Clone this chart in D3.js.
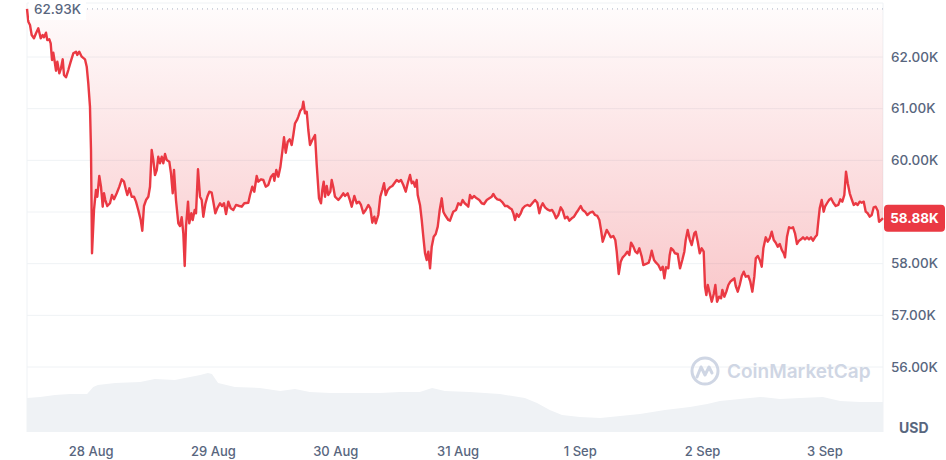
<!DOCTYPE html>
<html>
<head>
<meta charset="utf-8">
<script src="https://cdn.jsdelivr.net/npm/d3@7/dist/d3.min.js"></script>
<style>
  html, body { margin: 0; padding: 0; background: #fff; }
  svg { display: block; font-family: Inter, "Noto Sans", sans-serif; }
</style>
</head>
<body>
<svg id="chart" width="946" height="460"></svg>
<script>
// hours after 27 Aug 11:30, price in USD
var pricePoints = [
  [0,62930],[0.26,62683],[0.59,62619],[0.92,62426],[1.37,62362],[1.77,62459],[2.22,62555],[2.69,62362],
  [3.08,62426],[3.34,62381],[3.73,62470],[3.98,62329],[4.38,62343],[4.65,62265],[4.91,61942],[5.16,62083],
  [5.44,61909],[5.69,61735],[5.95,61909],[6.34,61685],[6.67,61781],[7.01,61955],[7.26,61652],[7.65,61607],
  [8.11,61748],[8.58,61909],[9.09,62072],[9.62,62103],[9.87,62039],[10.26,62103],[10.74,62006],[11.38,61955],
  [11.72,61812],[12.03,61491],[12.36,61038],[12.56,60200],[12.76,58201],[13.15,59039],[13.54,59426],[13.80,59296],
  [14.19,59697],[14.52,59490],[14.86,59103],[15.11,59362],[15.37,59232],[15.76,59116],[16.29,59169],[16.68,59329],
  [17.08,59246],[17.61,59362],[18.12,59490],[18.59,59633],[19.04,59587],[19.43,59426],[19.69,59329],[20.08,59459],
  [20.55,59296],[21.00,59296],[21.39,59200],[21.84,59039],[22.32,58845],[22.63,58638],[22.96,59116],[23.36,59232],
  [23.81,59296],[24.14,59490],[24.47,60200],[24.79,60007],[25.12,59716],[25.46,59813],[25.77,60070],[26.10,59943],
  [26.44,60070],[26.75,59943],[27.09,60123],[27.42,60007],[27.93,59974],[28.26,59749],[28.60,59362],[28.85,59813],
  [29.24,59232],[29.70,58781],[30.03,58729],[30.36,58898],[30.68,58588],[30.95,57955],[31.21,58716],[31.60,59200],
  [31.85,58781],[32.25,58975],[32.52,58845],[32.91,59039],[33.17,58975],[33.56,59827],[33.95,59296],[34.29,59232],
  [34.60,58909],[35.00,59155],[35.39,59296],[35.78,59393],[36.25,59374],[36.57,59200],[36.96,58975],[37.35,59072],
  [37.88,59169],[38.27,59116],[38.66,59169],[39.06,58961],[39.51,59200],[39.98,59072],[40.49,59039],[41.02,59136],
  [41.67,59116],[42.14,59103],[42.65,59169],[43.43,59180],[43.77,59329],[44.22,59490],[44.61,59393],[45.08,59697],
  [45.40,59587],[45.93,59633],[46.38,59619],[46.85,59490],[47.36,59523],[47.89,59683],[48.34,59736],[48.54,59606],
  [48.93,59813],[49.32,59683],[49.72,59865],[50.11,60167],[50.44,60446],[50.78,60148],[51.17,60361],[51.56,60407],
  [51.95,60297],[52.27,60490],[52.60,60717],[52.99,60781],[53.25,60845],[53.64,60961],[54.03,61007],[54.23,61135],
  [54.56,60910],[54.90,60941],[55.21,60587],[55.54,60297],[55.99,60394],[56.53,60490],[56.86,59910],[57.31,59265],
  [57.70,59169],[57.96,59426],[58.23,59587],[58.49,59296],[58.82,59503],[59.14,59329],[59.53,59393],[59.80,59619],
  [60.12,59478],[60.45,59296],[61.10,59232],[61.63,59296],[62.08,59362],[62.41,59310],[62.94,59362],[63.40,59219],
  [63.73,59103],[64.24,59310],[64.71,59169],[65.16,59200],[65.55,59136],[66.01,58975],[66.48,59039],[66.99,59136],
  [67.38,59072],[67.77,58793],[68.17,58909],[68.44,58781],[68.95,58942],[69.34,59296],[69.73,59426],[70.07,59556],
  [70.40,59329],[70.79,59426],[71.25,59478],[71.70,59503],[72.09,59556],[72.56,59619],[73.01,59587],[73.40,59619],
  [73.86,59523],[74.33,59393],[74.72,59556],[75.17,59716],[75.51,59556],[75.82,59587],[76.15,59490],[76.49,59619],
  [76.68,59329],[77.13,59136],[77.47,58845],[77.78,58522],[78.12,58201],[78.45,58071],[78.76,58232],[79.10,57910],
  [79.43,58329],[79.82,58522],[80.22,58574],[80.61,58716],[81.00,59039],[81.40,59265],[81.71,59006],[82.04,58942],
  [82.69,58845],[83.01,58832],[83.66,59006],[84.19,59039],[84.65,59169],[85.12,59136],[85.51,59232],[85.91,59169],
  [86.30,59136],[86.61,59103],[86.95,59329],[87.34,59265],[87.73,59310],[88.26,59265],[88.77,59232],[89.24,59169],
  [89.70,59155],[90.23,59232],[90.74,59265],[91.21,59296],[91.52,59349],[91.91,59285],[92.31,59246],[92.84,59232],
  [93.37,59180],[93.82,59116],[94.27,59116],[94.80,59072],[95.13,59052],[95.45,58975],[95.78,58845],[96.11,58961],
  [96.51,58909],[96.90,58975],[97.29,59072],[97.74,59116],[98.19,59136],[98.72,59116],[99.25,59180],[99.71,59232],
  [100.16,59180],[100.55,58975],[100.88,59103],[101.22,59169],[101.67,59091],[102.12,59052],[102.65,59025],[103.04,59039],
  [103.44,58975],[103.83,58878],[104.28,58942],[104.75,59091],[105.14,59025],[105.59,58878],[106.05,58909],[106.44,58832],
  [106.91,58878],[107.36,58909],[107.75,58975],[108.20,59039],[108.67,59116],[109.06,59039],[109.52,59006],[109.97,58942],
  [110.50,58987],[111.03,59006],[111.48,58942],[111.93,58923],[112.33,58845],[112.66,58652],[112.99,58425],[113.38,58536],
  [113.78,58652],[114.17,58588],[114.56,58510],[115.07,58536],[115.46,58458],[115.74,58232],[116.13,57800],[116.52,58038],
  [116.92,58123],[117.37,58168],[117.82,58232],[118.21,58168],[118.55,58406],[119.00,58329],[119.39,58232],[119.79,58201],
  [120.18,58298],[120.65,58135],[120.96,57974],[121.49,57994],[122.02,58019],[122.28,58104],[122.61,58251],[123.06,58071],
  [123.46,58019],[123.91,57974],[124.38,57878],[124.77,57942],[125.09,57717],[125.42,57930],[125.87,57910],[126.14,58168],
  [126.40,58298],[126.79,58265],[127.18,58201],[127.71,58187],[128.16,57910],[128.61,58071],[129.01,58232],[129.28,58458],
  [129.67,58652],[130.06,58472],[130.46,58361],[130.97,58588],[131.24,58619],[131.64,58425],[132.03,58201],[132.42,58298],
  [132.81,58232],[133.07,57554],[133.33,57394],[133.61,57587],[134.00,57427],[134.39,57264],[134.79,57413],[135.10,57587],
  [135.43,57264],[135.83,57361],[136.22,57330],[136.47,57491],[136.86,57361],[137.26,57458],[137.65,57587],[138.04,57651],
  [138.43,57684],[138.82,57717],[139.10,57568],[139.49,57458],[139.88,57587],[140.28,57761],[140.67,57845],[141.06,57748],
  [141.57,57761],[141.96,57651],[142.36,57458],[142.75,57748],[143.03,58104],[143.42,58149],[143.81,58071],[144.20,57942],
  [144.52,58298],[144.99,58510],[145.38,58425],[145.77,58491],[146.17,58619],[146.56,58458],[146.95,58406],[147.34,58329],
  [147.73,58381],[148.13,58265],[148.52,58201],[148.77,58123],[149.16,58522],[149.56,58704],[149.95,58685],[150.34,58704],
  [150.73,58588],[151.12,58381],[151.52,58445],[151.91,58472],[152.30,58510],[152.69,58472],[153.08,58510],[153.48,58472],
  [153.87,58510],[154.26,58445],[154.65,58510],[155.04,58555],[155.30,58812],[155.58,59072],[155.97,59232],[156.36,59006],
  [156.62,59103],[157.01,59169],[157.40,59232],[157.80,59265],[158.25,59180],[158.72,59116],[159.23,59136],[159.62,59246],
  [160.02,59200],[160.41,59329],[160.74,59780],[161.08,59556],[161.47,59362],[161.86,59246],[162.25,59136],[162.65,59169],
  [163.04,59136],[163.43,59200],[163.82,59180],[164.22,59200],[164.61,59006],[165.00,58975],[165.39,58909],[165.79,58942],
  [166.18,59091],[166.57,59103],[166.96,59025],[167.22,58812],[167.62,58845],[168,58880]
];

// hours after 27 Aug 11:30, volume (billion USD)
var volumePoints = [
  [0,25.5],[2.55,26.3],[5.5,27.8],[8.4,28.5],[11.8,28.5],[13.0,33.8],[13.9,35.3],[17.3,36.8],
  [22.2,37.5],[25.1,39.8],[29.0,39.0],[32.0,41.3],[34.0,42.8],[35.5,44.3],[36.3,43.5],[37.5,36.8],
  [40.8,33.8],[45.7,33.0],[49.7,30.8],[52.6,32.3],[55.5,30.0],[59.5,29.3],[69.3,29.3],[73.2,30.0],
  [77.1,30.0],[79.5,33.0],[82.0,30.8],[86.9,30.0],[92.8,28.5],[97.7,25.5],[100.1,21.8],[102.6,16.5],
  [105.0,12.8],[108.5,11.3],[112.5,10.5],[116.4,12.0],[120.3,13.5],[125.2,16.5],[130.1,18.8],[133.5,21.0],
  [136.0,23.3],[139.9,24.8],[143.9,26.3],[147.8,24.8],[151.7,25.5],[156.2,26.3],[159.6,23.3],[163.5,22.5],
  [168,22.5]
];

var priceTicks = [56000, 57000, 58000, 60000, 61000, 62000];
var gridTicks = [56000, 57000, 58000, 59000, 60000, 61000, 62000];
var openPrice = 62930;
var lastPrice = 58880;
var startTime = new Date(2024, 7, 27, 11, 30);

var svg = d3.select("#chart"),
    left = 27, right = 883, volBottom = 432;

function toDate(h) { return new Date(startTime.getTime() + h * 3600e3); }
function fmtK(v) { return (v / 1000).toFixed(2) + "K"; }

var x = d3.scaleTime()
    .domain([startTime, toDate(168)])
    .range([left, right]);

var y = d3.scaleLinear()
    .domain([56000, 62000])
    .range([367, 57]);

var yVol = d3.scaleLinear()
    .domain([0, 60])
    .range([volBottom, 352]);

var defs = svg.append("defs");
var grad = defs.append("linearGradient")
    .attr("id", "fillGrad")
    .attr("gradientUnits", "userSpaceOnUse")
    .attr("x1", 0).attr("x2", 0)
    .attr("y1", y(openPrice)).attr("y2", y(57250));
grad.append("stop").attr("offset", "0%").attr("stop-color", "#ea3943").attr("stop-opacity", 0.02);
grad.append("stop").attr("offset", "100%").attr("stop-color", "#ea3943").attr("stop-opacity", 0.28);

// frame
svg.append("line")
    .attr("x1", left).attr("x2", right).attr("y1", 3).attr("y2", 3)
    .attr("stroke", "#eff2f5");
svg.append("line")
    .attr("x1", left).attr("x2", left).attr("y1", 3).attr("y2", volBottom)
    .attr("stroke", "#eff2f5");
svg.append("line")
    .attr("x1", right).attr("x2", right).attr("y1", 3).attr("y2", volBottom)
    .attr("stroke", "#eff2f5");

// grid
svg.append("g")
  .selectAll("line")
  .data(gridTicks)
  .enter().append("line")
    .attr("x1", left).attr("x2", right)
    .attr("y1", function(d) { return y(d); })
    .attr("y2", function(d) { return y(d); })
    .attr("stroke", "#eff2f5");

// volume
var volArea = d3.area()
    .x(function(d) { return x(toDate(d[0])); })
    .y0(volBottom)
    .y1(function(d) { return yVol(d[1]); });

svg.append("path")
    .datum(volumePoints)
    .attr("d", volArea)
    .attr("fill", "#eff2f5");

// watermark
var wm = svg.append("g").attr("transform", "translate(705,371)");
wm.append("circle").attr("r", 13).attr("fill", "none").attr("stroke", "#cfd6e4").attr("stroke-width", 3);
wm.append("path")
    .attr("d", "M-8,6 L-4,-4 L0,4 L4,-4 L7,2")
    .attr("fill", "none").attr("stroke", "#cfd6e4").attr("stroke-width", 3)
    .attr("stroke-linejoin", "round").attr("stroke-linecap", "round");
svg.append("text")
    .attr("x", 727).attr("y", 378)
    .attr("font-size", 19).attr("font-weight", 600)
    .attr("fill", "#cfd6e4")
    .text("CoinMarketCap");

// price area + line
var area = d3.area()
    .x(function(d) { return x(toDate(d[0])); })
    .y0(y(openPrice))
    .y1(function(d) { return y(d[1]); });

svg.append("path")
    .datum(pricePoints)
    .attr("d", area)
    .attr("fill", "url(#fillGrad)");

var line = d3.line()
    .x(function(d) { return x(toDate(d[0])); })
    .y(function(d) { return y(d[1]); });

svg.append("path")
    .datum(pricePoints)
    .attr("d", line)
    .attr("fill", "none")
    .attr("stroke", "#ea3943")
    .attr("stroke-width", 2.4)
    .attr("stroke-linejoin", "round");

// open price dotted line + label
svg.append("line")
    .attr("x1", 87).attr("x2", right)
    .attr("y1", y(openPrice)).attr("y2", y(openPrice))
    .attr("stroke", "#a6b0c3")
    .attr("stroke-dasharray", "1,4");
svg.append("rect")
    .attr("x", 29).attr("y", 0).attr("width", 57).attr("height", 20)
    .attr("fill", "#fff");
svg.append("text")
    .attr("x", 34).attr("y", y(openPrice) + 5)
    .attr("font-size", 13.5).attr("font-weight", 500)
    .attr("fill", "#58667e")
    .text(fmtK(openPrice));

// y axis
var yAxis = svg.append("g")
    .attr("transform", "translate(" + right + ",0)")
    .call(d3.axisRight(y).tickValues(priceTicks).tickSize(0).tickPadding(8).tickFormat(fmtK));
yAxis.select(".domain").remove();
yAxis.selectAll("text")
    .attr("font-family", "Inter, sans-serif")
    .attr("font-size", 13.5).attr("font-weight", 500)
    .attr("fill", "#58667e");

// x axis
var xAxis = svg.append("g")
    .attr("transform", "translate(0," + volBottom + ")")
    .call(d3.axisBottom(x).ticks(d3.timeDay.every(1)).tickSize(0).tickPadding(15)
      .tickFormat(d3.timeFormat("%-d %b")));
xAxis.select(".domain").remove();
xAxis.selectAll("text")
    .attr("font-family", "Inter, sans-serif")
    .attr("font-size", 13).attr("font-weight", 500)
    .attr("fill", "#58667e");

svg.append("text")
    .attr("x", 899).attr("y", 433)
    .attr("font-size", 14).attr("font-weight", 700)
    .attr("fill", "#58667e")
    .text("USD");

// last price tag
svg.append("rect")
    .attr("x", 884).attr("y", y(lastPrice) - 13.5)
    .attr("width", 61).attr("height", 27).attr("rx", 4)
    .attr("fill", "#ea3943");
svg.append("text")
    .attr("x", 914.5).attr("y", y(lastPrice) + 5)
    .attr("text-anchor", "middle")
    .attr("font-size", 13.5).attr("font-weight", 700)
    .attr("fill", "#fff")
    .text(fmtK(lastPrice));
</script>
</body>
</html>
